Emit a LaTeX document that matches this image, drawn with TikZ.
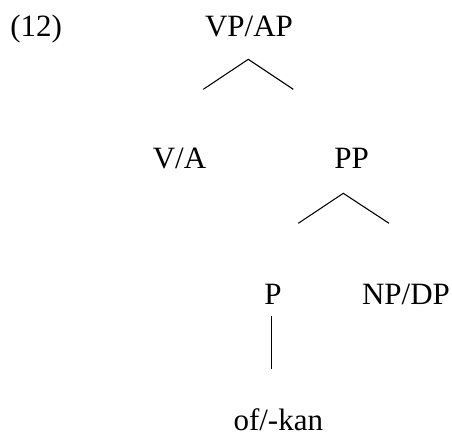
\documentclass[tikz,border=0pt]{standalone}
\usepackage{fontspec}
\setmainfont{Liberation Serif}
\begin{document}
\begin{tikzpicture}[x=0.5pt,y=-0.5pt,
  cat/.style={anchor=base,inner sep=0pt,font=\fontsize{15.5}{18}\selectfont},
  branch/.style={line width=0.55pt,black}]
\useasboundingbox (0,0) rectangle (452,440);
% example number
\node[cat,anchor=base west] (num) at (10,36.7) {(12)};
% tree labels
\node[cat] (vpap) at (249,36.7) {VP/AP};
\node[cat] (va) at (179.5,168.3) {V/A};
\node[cat] (pp) at (351.7,168.3) {PP};
\node[cat] (p) at (273,304.3) {P};
\node[cat] (npdp) at (406,304.3) {NP/DP};
\node[cat] (ofkan) at (278.3,430) {of/-kan};
% branch points
\coordinate (vpap-top) at (248.3,59.3);
\coordinate (vpap-l) at (203.3,89.3);
\coordinate (vpap-r) at (293.3,89.3);
\coordinate (pp-top) at (343.3,193.3);
\coordinate (pp-l) at (298.3,223.3);
\coordinate (pp-r) at (389,223.3);
\coordinate (p-top) at (271.7,316);
\coordinate (p-bot) at (271.7,369.3);
% branches
\draw[branch] (vpap-l) -- (vpap-top) -- (vpap-r);
\draw[branch] (pp-l) -- (pp-top) -- (pp-r);
\draw[branch] (p-top) -- (p-bot);
\end{tikzpicture}
\end{document}
